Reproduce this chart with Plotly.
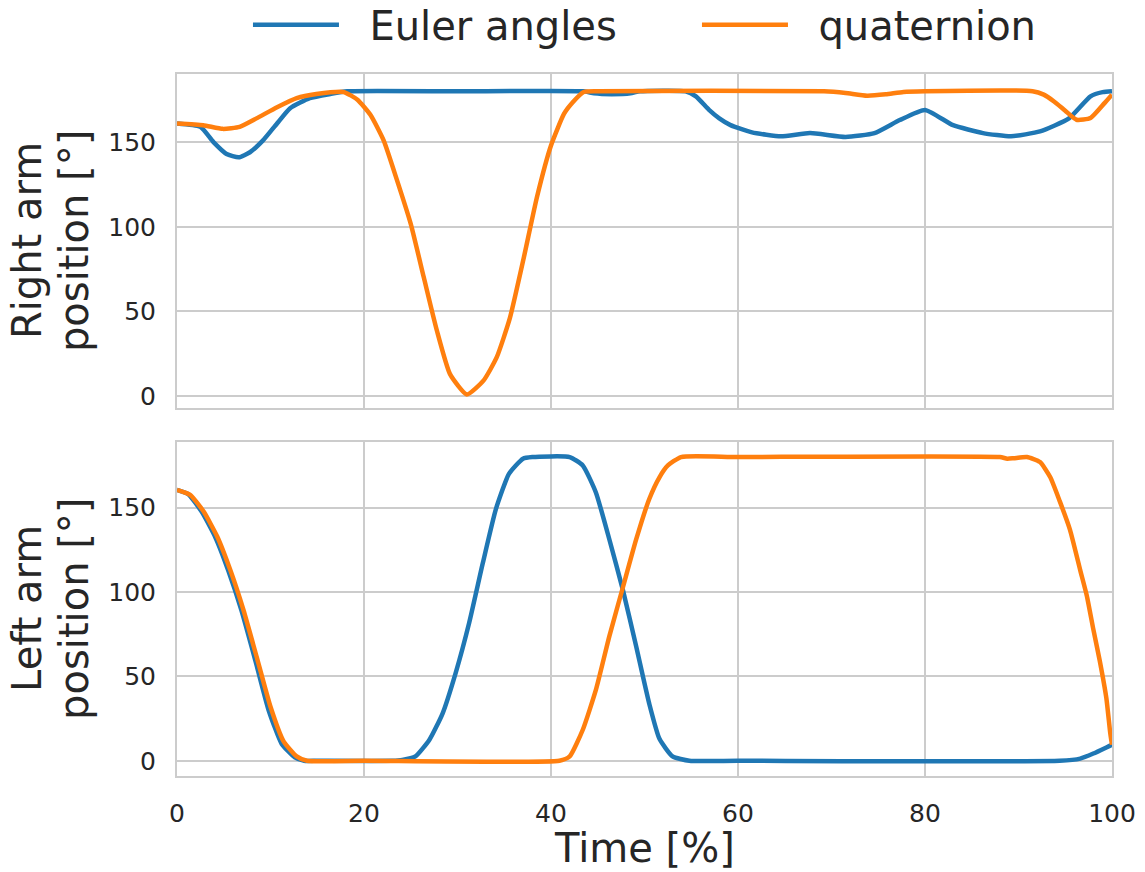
import plotly.graph_objects as go
from plotly.subplots import make_subplots

# ---- data ----
right_euler_t = [0, 2.5, 3.9, 5.3, 6.6, 7.8, 9.2, 10.7, 12.1, 14.2, 16.4, 18.2, 30, 43.5, 44.6, 46.5, 48.5, 49.5,
                 54.4, 55.5, 56.9, 58.0, 59.2, 61.5, 64.6, 67.7, 71.5, 74.6, 77.3, 80, 83, 86.2, 89.2, 92.3, 95.4,
                 97.7, 99, 100]
right_euler_v = [161, 159, 150, 143, 141, 144, 151, 161, 170, 175.9, 178.4, 180, 180, 180, 178.8, 178.3, 178.8, 180,
                 180, 177, 169, 164, 160, 155.7, 153.4, 155.3, 153, 155.3, 163, 169, 160, 155.3, 153.4, 156.3, 164,
                 177, 179.5, 180]

right_quat_t = [0, 2.8, 4.9, 6.7, 8.5, 10.7, 12.8, 14.9, 17.8, 19.3, 20.7, 22.1, 23.5, 25, 26.4, 27.8, 29.2, 31,
                32.8, 34.2, 35.6, 37.1, 38.5, 40, 41.4, 42.4, 43.5, 45, 69.2, 71.5, 73.8, 75.8, 77.7, 80, 91.5, 92.7,
                93.8, 95, 96.2, 97.7, 99.2, 100]
right_quat_v = [161, 160, 157.8, 159, 164, 170.6, 176, 178.4, 179.6, 175, 166, 151, 128, 101.7, 70, 38.6, 13, 1,
                9.3, 23, 46, 82, 117.6, 148, 166.8, 174, 179.6, 180, 180, 179, 177.4, 178.2, 179.6, 180, 180, 178,
                174, 168.5, 163.2, 164.2, 173, 178]

left_euler_t = [0, 1.2, 2.65, 4.1, 5.5, 6.9, 8.4, 9.8, 11.2, 12.6, 13.6, 15, 23, 24.1, 25.5, 27, 28.4, 29.8, 31.25,
                32.7, 34.1, 35.5, 37, 38, 42, 43.4, 44.8, 46.25, 47.7, 49.1, 50.5, 51.6, 53, 54.8, 60, 94.4, 96.6,
                98, 99.8, 100]
left_euler_v = [160.5, 158, 147.5, 132.5, 112.5, 89, 59, 30, 10, 2, 0, 0, 0, 0.5, 2.6, 12.5, 28, 52, 81.8,
                117, 149, 170, 179, 180, 180, 175, 159, 131, 101, 68, 34, 13, 2.6, 0, 0, 0, 1.3,
                4.3, 9, 9.5]

left_quat_t = [0, 1.4, 2.85, 4.3, 5.7, 7.1, 8.6, 10, 11.4, 12.8, 13.9, 20, 40.9, 42, 43.4, 44.8, 46.25, 47.7, 49.1,
               50.5, 51.6, 52.5, 53.9, 60, 88, 88.8, 89.5, 90.9, 92.3, 93.4, 94.4, 95.5, 96.6, 97.3, 98.0,
               98.7, 99.4, 99.8, 100]
left_quat_v = [160.5, 157.6, 147.7, 132.9, 113, 89.5, 60, 32, 11.5, 2.6, 0, 0, 0, 2.6, 18.4, 42, 74, 103, 131,
               155, 168, 175, 180, 180, 180, 179, 179.3, 180, 177, 168, 154, 137, 113, 98, 78,
               59, 37, 17, 9.5]

series_names = ["Euler angles", "quaternion"]
colors = ["#1f77b4", "#ff7f0e"]
y_ticks = [0, 50, 100, 150]
x_ticks = [0, 20, 40, 60, 80, 100]

FONT = "DejaVu Sans"
TXT = "#262626"
GRID = "#cccccc"

fig = make_subplots(rows=2, cols=1, shared_xaxes=True, vertical_spacing=0.048)

def line(color):
    return dict(color=color, width=4.5, shape="spline", smoothing=0.5)

pad = "\u00a0\u00a0"
fig.add_trace(go.Scatter(x=right_euler_t, y=right_euler_v, mode="lines", name=pad + series_names[0],
                         line=line(colors[0]), legendgroup="e"), row=1, col=1)
fig.add_trace(go.Scatter(x=right_quat_t, y=right_quat_v, mode="lines", name=pad + series_names[1],
                         line=line(colors[1]), legendgroup="q"), row=1, col=1)
fig.add_trace(go.Scatter(x=left_euler_t, y=left_euler_v, mode="lines", name=series_names[0], showlegend=False,
                         line=line(colors[0]), legendgroup="e"), row=2, col=1)
fig.add_trace(go.Scatter(x=left_quat_t, y=left_quat_v, mode="lines", name=series_names[1], showlegend=False,
                         line=line(colors[1]), legendgroup="q"), row=2, col=1)

axis_common = dict(showline=True, mirror=True, linecolor=GRID, linewidth=2,
                   showgrid=True, gridcolor=GRID, gridwidth=2, zeroline=False,
                   ticks="", tickfont=dict(family=FONT, size=25, color=TXT))

fig.update_xaxes(range=[0, 100], tickvals=x_ticks, **axis_common)
fig.update_xaxes(showticklabels=False, row=1, col=1)
fig.update_xaxes(ticklabelstandoff=14, row=2, col=1)
fig.update_yaxes(tickvals=y_ticks, ticklabelstandoff=14, **axis_common)
fig.update_yaxes(range=[-7.1, 190.2], row=1, col=1)
fig.update_yaxes(range=[-9, 189], row=2, col=1)

ann_font = dict(family=FONT, size=40, color=TXT)
annotations = []
for yref, first in [("y domain", "Right arm"), ("y2 domain", "Left arm")]:
    annotations.append(dict(text=first, xref="paper", x=0, xshift=-150, yref=yref, y=0.5,
                            textangle=-90, showarrow=False, xanchor="center", yanchor="middle", font=ann_font))
    annotations.append(dict(text="position [°]", xref="paper", x=0, xshift=-103, yref=yref, y=0.5,
                            textangle=-90, showarrow=False, xanchor="center", yanchor="middle", font=ann_font))
annotations.append(dict(text="Time [%]", xref="paper", x=0.5, yref="paper", y=0, yshift=-72,
                        showarrow=False, xanchor="center", yanchor="middle", font=ann_font))

fig.update_layout(
    width=1145, height=872,
    margin=dict(l=177, r=33, t=74, b=96, autoexpand=False),
    plot_bgcolor="white", paper_bgcolor="white",
    font=dict(family=FONT, color=TXT),
    annotations=annotations,
    legend=dict(orientation="h", x=0.0759, xanchor="left", y=1.07, yanchor="middle",
                font=dict(family=FONT, size=40, color=TXT), itemwidth=86,
                entrywidth=348, entrywidthmode="pixels", bgcolor="rgba(0,0,0,0)"),
)

fig.write_html("out.html")
